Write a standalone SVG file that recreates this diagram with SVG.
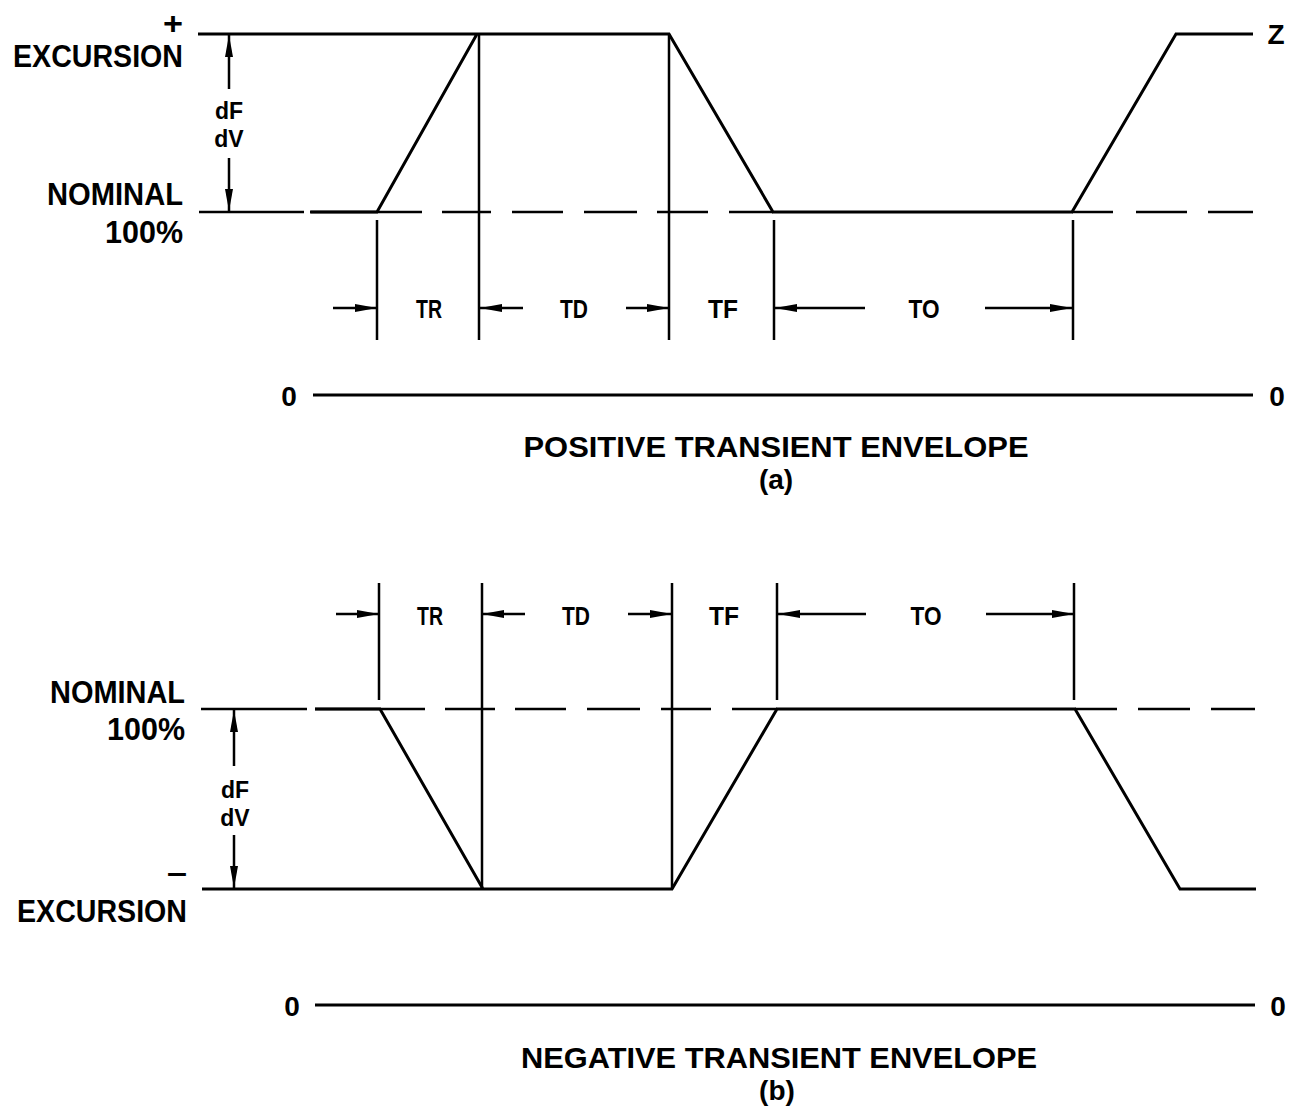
<svg xmlns="http://www.w3.org/2000/svg" width="1298" height="1114" viewBox="0 0 1298 1114">
<style>
.w{fill:none;stroke:#000;stroke-width:3;stroke-linejoin:miter}
.l{fill:none;stroke:#000;stroke-width:2.5}
.a{fill:none;stroke:#000;stroke-width:2.5;marker-end:url(#ah)}
text{font-family:"Liberation Sans",Arial,sans-serif;font-weight:bold;fill:#000}
.lab{font-size:31px;text-anchor:end}
.dim{font-size:26px;text-anchor:middle}
.df{font-size:23px;text-anchor:middle}
.ttl{font-size:30px;text-anchor:middle}
.sub{font-size:28px;text-anchor:middle}
.z{font-size:28px;text-anchor:middle}
</style>
<defs>
<marker id="ah" markerUnits="userSpaceOnUse" markerWidth="24" markerHeight="10" refX="22" refY="4" orient="auto">
<path d="M0,0 L22,4 L0,8 Z" fill="#000"/>
</marker>
</defs>
<rect width="1298" height="1114" fill="#fff"/>

<g id="panel-a">
<g id="a-labels">
<text class="lab" x="183" y="34" textLength="20" lengthAdjust="spacingAndGlyphs">+</text>
<text class="lab" x="183" y="67" textLength="170" lengthAdjust="spacingAndGlyphs">EXCURSION</text>
<text class="lab" x="183" y="205" textLength="136" lengthAdjust="spacingAndGlyphs">NOMINAL</text>
<text class="lab" x="183" y="243" textLength="78" lengthAdjust="spacingAndGlyphs">100%</text>
<text class="df" x="229" y="119">dF</text>
<text class="df" x="229" y="147">dV</text>
<text class="z" x="1276" y="44">Z</text>
<text class="z" x="289" y="406">0</text>
<text class="z" x="1277" y="406">0</text>
<text class="dim" x="429" y="318" textLength="26" lengthAdjust="spacingAndGlyphs">TR</text>
<text class="dim" x="574" y="318" textLength="28" lengthAdjust="spacingAndGlyphs">TD</text>
<text class="dim" x="723" y="318" textLength="30" lengthAdjust="spacingAndGlyphs">TF</text>
<text class="dim" x="924" y="318" textLength="31" lengthAdjust="spacingAndGlyphs">TO</text>
<text class="ttl" x="776" y="457" textLength="505" lengthAdjust="spacingAndGlyphs">POSITIVE TRANSIENT ENVELOPE</text>
<text class="sub" x="776" y="489">(a)</text>
</g>
<g id="a-lines">
<path class="l" d="M199,212H304 M311,212H422 M442,212H491 M512,212H563 M584,212H637 M657,212H708 M729,212H773 M1072,212H1113 M1136,212H1187 M1208,212H1253"/>
<path class="w" d="M198,34H477 M310,212H377L477,34H669L773,212H1072L1176,34H1253"/>
<path class="l" d="M377,220V340 M479,34V340 M669,34V340 M774,220V340 M1073,220V340"/>
<path class="w" d="M313,395H1253"/>
</g>
<g id="a-arrows">
<path class="a" d="M229,89V35"/>
<path class="a" d="M229,158V211"/>
<path class="a" d="M333,308H377"/>
<path class="a" d="M523,308H480"/>
<path class="a" d="M626,308H669"/>
<path class="a" d="M865,308H775"/>
<path class="a" d="M985,308H1072"/>
</g>
</g>

<g id="panel-b">
<g id="b-labels">
<text class="lab" x="185" y="703" textLength="135" lengthAdjust="spacingAndGlyphs">NOMINAL</text>
<text class="lab" x="185" y="740" textLength="78" lengthAdjust="spacingAndGlyphs">100%</text>
<text class="lab" x="187" y="883" textLength="20" lengthAdjust="spacingAndGlyphs">–</text>
<text class="lab" x="187" y="922" textLength="170" lengthAdjust="spacingAndGlyphs">EXCURSION</text>
<text class="df" x="235" y="798">dF</text>
<text class="df" x="235" y="826">dV</text>
<text class="z" x="292" y="1016">0</text>
<text class="z" x="1278" y="1016">0</text>
<text class="dim" x="430" y="625" textLength="26" lengthAdjust="spacingAndGlyphs">TR</text>
<text class="dim" x="576" y="625" textLength="28" lengthAdjust="spacingAndGlyphs">TD</text>
<text class="dim" x="724" y="625" textLength="30" lengthAdjust="spacingAndGlyphs">TF</text>
<text class="dim" x="926" y="625" textLength="31" lengthAdjust="spacingAndGlyphs">TO</text>
<text class="ttl" x="779" y="1068" textLength="516" lengthAdjust="spacingAndGlyphs">NEGATIVE TRANSIENT ENVELOPE</text>
<text class="sub" x="777" y="1100">(b)</text>
</g>
<g id="b-lines">
<path class="l" d="M201,709H307 M315,709H425 M445,709H495 M515,709H566 M587,709H640 M661,709H711 M732,709H777 M1075,709H1117 M1138,709H1190 M1211,709H1255"/>
<path class="w" d="M202,889H483 M315,709H380L483,889H672L777,709H1075L1180,889H1256"/>
<path class="l" d="M379,583V700 M482,583V889 M672,583V889 M777,583V700 M1074,583V700"/>
<path class="w" d="M315,1005H1255"/>
</g>
<g id="b-arrows">
<path class="a" d="M234,766V710"/>
<path class="a" d="M234,835V888"/>
<path class="a" d="M336,614H379"/>
<path class="a" d="M525,614H482"/>
<path class="a" d="M628,614H672"/>
<path class="a" d="M866,614H778"/>
<path class="a" d="M986,614H1074"/>
</g>
</g>
</svg>
